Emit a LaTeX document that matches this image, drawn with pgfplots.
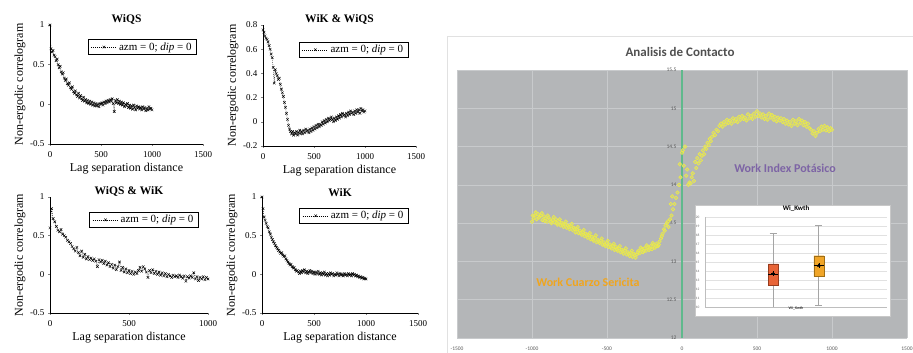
\documentclass[border=0pt]{standalone}
\usepackage{pgfplots}
\pgfplotsset{compat=1.18}
\usepackage{fontspec}
\setmainfont{Liberation Serif}
\newfontfamily\carl{Carlito}
\definecolor{bggray}{RGB}{180,182,184}
\definecolor{gridc}{RGB}{200,202,204}
\definecolor{greenl}{RGB}{95,185,140}
\definecolor{yel}{RGB}{236,236,70}
\definecolor{yelfill}{RGB}{215,215,120}
\definecolor{purp}{RGB}{125,100,165}
\definecolor{orng}{RGB}{240,165,30}
\definecolor{box1}{RGB}{232,100,55}
\definecolor{box2}{RGB}{240,165,40}
\definecolor{whisk}{RGB}{165,165,165}
\pgfplotsset{
  leftp/.style={
    scale only axis, anchor=south west, axis lines=left, axis line style={-, line width=0.4pt},
    tick align=outside, major tick length=2pt, tick style={line width=0.4pt},
    /pgf/number format/assume math mode=true, /pgf/number format/1000 sep={},
    tick label style={font=\fontsize{9}{10}\selectfont},
    xticklabel style={yshift=-2pt},
    label style={font=\fontsize{12}{13}\selectfont},
    xlabel={Lag separation distance}, ylabel={Non-ergodic correlogram},
    xlabel style={yshift=1pt}, ylabel style={yshift=-2pt},
    title style={font=\fontsize{11.5}{12}\selectfont\bfseries, yshift=-9pt},
    legend style={font=\fontsize{11}{11}\selectfont, draw=black, line width=0.4pt, inner xsep=3pt, inner ysep=1pt, anchor=north east, legend cell align=left},
    legend image code/.code={\draw[mark repeat=2,mark phase=2] plot coordinates {(0pt,0pt) (13pt,0pt) (26pt,0pt)};},
  },
  cplot/.style={black, dash pattern=on 1pt off 1pt, line width=0.35pt, mark=x, mark size=1.8pt, mark options={solid, line width=0.45pt}},
}
\begin{document}
\begin{tikzpicture}
\path[use as bounding box] (0pt,0pt) rectangle (913pt,353pt);
% ---------- Panel 1: WiQS
\begin{axis}[leftp, at={(50pt,209pt)}, width=153pt, height=119pt,
  xmin=0, xmax=1500, ymin=-0.5, ymax=1, xtick={0,500,1000,1500}, ytick={-0.5,0,0.5,1},
  title={WiQS}, legend style={at={(0.96,0.88)}}]
\addplot[cplot] coordinates {(0,1.00)(10,0.70)(20,0.66)(30,0.68)(40,0.62)(50,0.60)(60,0.55)(70,0.57)(80,0.50)(90,0.46)(100,0.48)(110,0.41)(120,0.38)(130,0.40)(140,0.33)(150,0.30)(160,0.32)(170,0.26)(180,0.24)(190,0.27)(200,0.21)(210,0.19)(220,0.22)(230,0.16)(240,0.14)(250,0.17)(260,0.12)(270,0.10)(280,0.14)(290,0.08)(300,0.11)(310,0.07)(320,0.05)(330,0.09)(340,0.04)(350,0.06)(360,0.02)(370,0.05)(380,0.01)(390,0.04)(400,0.00)(410,0.03)(420,-0.01)(430,0.02)(440,-0.02)(450,0.01)(460,-0.02)(470,0.00)(480,-0.03)(490,0.01)(500,0.00)(510,0.02)(520,-0.01)(530,0.03)(540,0.01)(550,0.04)(560,0.02)(570,0.05)(580,0.03)(590,0.06)(600,0.04)(610,0.07)(620,0.01)(630,-0.09)(640,0.05)(650,0.02)(660,0.06)(670,0.01)(680,0.04)(690,0.00)(700,0.03)(710,-0.01)(720,0.02)(730,-0.03)(740,0.00)(750,-0.02)(760,0.01)(770,-0.04)(780,-0.01)(790,-0.05)(800,-0.02)(810,-0.06)(820,-0.01)(830,-0.04)(840,-0.07)(850,-0.02)(860,-0.05)(870,-0.03)(880,-0.06)(890,-0.04)(900,-0.07)(910,-0.03)(920,-0.06)(930,-0.04)(940,-0.08)(950,-0.05)(960,-0.07)(970,-0.03)(980,-0.06)(990,-0.05)(1000,-0.07)};
\addlegendentry{azm = 0; \textit{dip} = 0}
\end{axis}
% ---------- Panel 2: WiK & WiQS
\begin{axis}[leftp, at={(263pt,207pt)}, width=153pt, height=121pt,
  xmin=0, xmax=1500, ymin=-0.2, ymax=0.8, xtick={0,500,1000,1500}, ytick={-0.2,0,0.2,0.4,0.6,0.8},
  title={WiK \& WiQS}, legend style={at={(0.95,0.86)}}]
\addplot[cplot] coordinates {(0,0.76)(10,0.74)(20,0.71)(30,0.69)(40,0.68)(50,0.66)(60,0.63)(70,0.60)(80,0.56)(90,0.53)(100,0.45)(110,0.32)(120,0.43)(130,0.40)(140,0.38)(150,0.35)(160,0.36)(170,0.31)(180,0.27)(190,0.24)(200,0.21)(210,0.16)(220,0.12)(230,0.07)(240,0.02)(250,-0.03)(260,-0.06)(270,-0.08)(280,-0.10)(290,-0.08)(300,-0.11)(310,-0.09)(320,-0.10)(330,-0.08)(340,-0.11)(350,-0.09)(360,-0.07)(370,-0.10)(380,-0.08)(390,-0.10)(400,-0.07)(410,-0.09)(420,-0.06)(430,-0.08)(440,-0.07)(450,-0.09)(460,-0.06)(470,-0.08)(480,-0.05)(490,-0.07)(500,-0.04)(510,-0.06)(520,-0.03)(530,-0.05)(540,-0.02)(550,-0.04)(560,-0.02)(570,-0.03)(580,0.00)(590,-0.02)(600,0.01)(610,-0.01)(620,0.02)(630,0.00)(640,0.03)(650,0.01)(660,0.02)(670,0.04)(680,0.02)(690,0.00)(700,0.03)(710,0.01)(720,0.04)(730,0.02)(740,0.05)(750,0.03)(760,0.06)(770,0.04)(780,0.07)(790,0.05)(800,0.06)(810,0.04)(820,0.07)(830,0.05)(840,0.08)(850,0.06)(860,0.09)(870,0.07)(880,0.08)(890,0.06)(900,0.09)(910,0.07)(920,0.10)(930,0.08)(940,0.10)(950,0.07)(960,0.11)(970,0.09)(980,0.10)(990,0.08)(1000,0.09)};
\addlegendentry{azm = 0; \textit{dip} = 0}
\end{axis}
% ---------- Panel 3: WiQS & WiK
\begin{axis}[leftp, at={(50pt,40pt)}, width=158pt, height=116pt,
  xmin=0, xmax=1000, ymin=-0.5, ymax=1, xtick={0,500,1000}, ytick={-0.5,0,0.5,1},
  title={WiQS \& WiK}, legend style={at={(0.94,0.87)}}]
\addplot[cplot] coordinates {(0,0.60)(10,0.85)(20,0.72)(30,0.68)(40,0.62)(50,0.57)(60,0.55)(70,0.58)(80,0.52)(90,0.50)(100,0.48)(110,0.44)(120,0.42)(130,0.40)(140,0.36)(150,0.33)(160,0.30)(170,0.35)(180,0.28)(190,0.24)(200,0.30)(210,0.22)(220,0.26)(230,0.20)(240,0.23)(250,0.19)(260,0.21)(270,0.18)(280,0.20)(290,0.17)(300,0.10)(310,0.19)(320,0.16)(330,0.18)(340,0.14)(350,0.17)(360,0.12)(370,0.15)(380,0.10)(390,0.13)(400,0.08)(410,0.12)(420,0.06)(430,0.10)(440,0.16)(450,0.05)(460,0.09)(470,0.03)(480,0.07)(490,0.02)(500,0.05)(510,0.01)(520,0.04)(530,0.00)(540,0.03)(550,0.01)(560,0.05)(570,0.09)(580,0.04)(590,0.10)(600,0.07)(610,0.03)(620,-0.04)(630,0.05)(640,0.02)(650,0.06)(660,0.01)(670,0.04)(680,0.00)(690,0.03)(700,-0.01)(710,0.02)(720,-0.02)(730,0.01)(740,-0.03)(750,0.00)(760,-0.02)(770,-0.04)(780,-0.01)(790,-0.03)(800,-0.02)(810,-0.04)(820,-0.01)(830,-0.03)(840,-0.05)(850,-0.02)(860,-0.09)(870,-0.03)(880,-0.05)(890,-0.02)(900,-0.04)(910,0.02)(920,-0.06)(930,-0.03)(940,-0.08)(950,-0.04)(960,-0.06)(970,-0.03)(980,-0.07)(990,-0.04)(1000,-0.06)};
\addlegendentry{azm = 0; \textit{dip} = 0}
\end{axis}
% ---------- Panel 4: WiK
\begin{axis}[leftp, at={(262pt,40pt)}, width=156pt, height=116pt,
  xmin=0, xmax=1500, ymin=-0.5, ymax=1, xtick={0,500,1000,1500}, ytick={-0.5,0,0.5,1},
  title={WiK}, legend style={at={(0.94,0.905)}}]
\addplot[cplot] coordinates {(0,1.00)(10,0.85)(20,0.74)(30,0.70)(40,0.66)(50,0.62)(60,0.60)(70,0.55)(80,0.52)(90,0.48)(100,0.45)(110,0.42)(120,0.40)(130,0.37)(140,0.35)(150,0.33)(160,0.31)(170,0.29)(180,0.27)(190,0.28)(200,0.25)(210,0.23)(220,0.24)(230,0.20)(240,0.18)(250,0.16)(260,0.14)(270,0.12)(280,0.13)(290,0.10)(300,0.08)(310,0.09)(320,0.06)(330,0.04)(340,0.05)(350,0.03)(360,0.01)(370,0.04)(380,0.02)(390,0.05)(400,0.03)(410,0.06)(420,0.02)(430,0.04)(440,0.01)(450,0.03)(460,0.05)(470,0.02)(480,0.04)(490,0.01)(500,0.03)(510,0.00)(520,0.03)(530,0.01)(540,0.04)(550,0.00)(560,0.02)(570,-0.01)(580,0.02)(590,0.00)(600,0.03)(610,-0.01)(620,0.01)(630,-0.02)(640,0.01)(650,-0.01)(660,0.02)(670,0.00)(680,0.01)(690,-0.02)(700,0.00)(710,-0.01)(720,0.02)(730,0.00)(740,-0.02)(750,0.01)(760,-0.01)(770,0.00)(780,-0.02)(790,0.01)(800,-0.01)(810,0.00)(820,-0.02)(830,0.01)(840,-0.01)(850,0.00)(860,-0.02)(870,0.01)(880,-0.01)(890,0.00)(900,-0.02)(910,-0.01)(920,-0.03)(930,-0.02)(940,-0.04)(950,-0.03)(960,-0.05)(970,-0.04)(980,-0.06)(990,-0.05)(1000,-0.06)};
\addlegendentry{azm = 0; \textit{dip} = 0}
\end{axis}
% ---------- Right chart
\draw[draw={rgb,255:red,225;green,225;blue,225}, line width=0.6pt] (447pt,-1pt) rectangle (914pt,317pt);
\node[font=\carl\bfseries\fontsize{13}{14}\selectfont, text={rgb,255:red,80;green,80;blue,80}] at (680pt,301pt) {Analisis de Contacto};
\begin{axis}[at={(457pt,15pt)}, anchor=south west, scale only axis, width=450pt, height=268pt,
  xmin=-1500, xmax=1500, ymin=12, ymax=15.5,
  axis background/.style={fill=bggray},
  axis x line=bottom, axis y line=middle,
  x axis line style={draw=none},
  y axis line style={draw=greenl, line width=2.5pt, -},
  hide obscured x ticks=false, hide obscured y ticks=false,
  grid=major, major grid style={draw=gridc, line width=0.6pt},
  xtick={-1500,-1000,...,1500}, ytick={12,12.5,...,15.5},
  tick style={draw=none},
  /pgf/number format/assume math mode=true, /pgf/number format/1000 sep={},
  tick label style={font=\carl\fontsize{5.5}{6}\selectfont, text={rgb,255:red,90;green,90;blue,90}},
  xticklabel style={yshift=-3pt},
  clip=false]
\addplot[only marks, mark=*, mark size=1.8pt, mark options={draw=yel, fill=yelfill, fill opacity=0.6, line width=0.55pt}] coordinates {(-1000,13.52)(-990,13.56)(-980,13.6)(-970,13.55)(-960,13.62)(-950,13.58)(-940,13.6)(-930,13.54)(-920,13.59)(-910,13.56)(-900,13.52)(-890,13.57)(-880,13.55)(-870,13.5)(-860,13.54)(-850,13.51)(-840,13.55)(-830,13.48)(-820,13.52)(-810,13.47)(-800,13.5)(-790,13.45)(-780,13.49)(-770,13.44)(-760,13.47)(-750,13.42)(-740,13.46)(-730,13.41)(-720,13.44)(-710,13.38)(-700,13.42)(-690,13.37)(-680,13.4)(-670,13.35)(-660,13.38)(-650,13.33)(-640,13.36)(-630,13.31)(-620,13.34)(-610,13.29)(-600,13.32)(-590,13.27)(-580,13.31)(-570,13.25)(-560,13.28)(-550,13.24)(-540,13.27)(-530,13.22)(-520,13.25)(-510,13.2)(-500,13.24)(-490,13.19)(-480,13.22)(-470,13.17)(-460,13.2)(-450,13.15)(-440,13.19)(-430,13.14)(-420,13.17)(-410,13.12)(-400,13.15)(-390,13.1)(-380,13.14)(-370,13.09)(-360,13.12)(-350,13.07)(-340,13.11)(-330,13.06)(-320,13.1)(-310,13.05)(-300,13.09)(-290,13.14)(-280,13.11)(-270,13.16)(-260,13.12)(-250,13.17)(-240,13.14)(-230,13.19)(-220,13.15)(-210,13.2)(-200,13.16)(-190,13.22)(-180,13.18)(-170,13.23)(-160,13.2)(-150,13.26)(-140,13.3)(-130,13.36)(-120,13.42)(-110,13.47)(-100,13.5)(-90,13.45)(-80,13.55)(-70,13.6)(-60,13.68)(-50,13.75)(-40,13.83)(-30,13.9)(-20,14.0)(-15,14.27)(-10,14.1)
(-995,13.6)(-975,13.64)(-955,13.57)(-935,13.63)(-915,13.53)(-895,13.6)(-875,13.52)(-855,13.58)(-835,13.5)(-815,13.55)(-795,13.48)(-775,13.52)(-755,13.45)(-735,13.49)(-715,13.42)(-695,13.45)(-675,13.37)(-655,13.41)(-635,13.34)(-615,13.37)(-595,13.29)(-575,13.34)(-555,13.26)(-535,13.3)(-515,13.22)(-495,13.27)(-475,13.19)(-455,13.23)(-435,13.16)(-415,13.2)(-395,13.13)(-375,13.17)(-355,13.1)(-335,13.14)(-315,13.08)(-295,13.12)(-275,13.18)(-255,13.14)(-235,13.21)(-215,13.17)(-195,13.24)(-175,13.2)(-155,13.22)(-135,13.33)(-115,13.4)(-95,13.52)(-75,13.75)(-65,13.85)
(0,14.42)(5,14.45)(12,14.25)(20,14.5)(28,14.12)(35,14.2)(42,14.0)(50,14.03)(58,14.02)(65,14.1)(72,14.15)(80,14.05)(88,14.3)(95,14.22)(102,14.35)(110,14.28)(118,14.4)(125,14.32)(132,14.38)(140,14.45)(148,14.4)(155,14.5)(162,14.47)(170,14.55)(178,14.52)(185,14.6)(192,14.57)(200,14.63)(210,14.68)(220,14.65)(230,14.72)(240,14.7)(250,14.77)(260,14.8)(270,14.76)(280,14.82)(290,14.79)(300,14.85)(310,14.81)(320,14.84)(330,14.8)(340,14.87)(350,14.83)(360,14.86)(370,14.82)(380,14.89)(390,14.85)(400,14.9)(410,14.86)(420,14.88)(430,14.84)(440,14.92)(450,14.87)(460,14.9)(470,14.86)(480,14.93)(490,14.89)(500,14.96)(510,14.9)(520,14.93)(530,14.88)(540,14.92)(550,14.86)(560,14.9)(570,14.85)(580,14.93)(590,14.88)(600,14.91)(610,14.85)(620,14.89)(630,14.83)(640,14.88)(650,14.84)(660,14.87)(670,14.82)(680,14.86)(690,14.8)(700,14.84)(710,14.79)(720,14.82)(730,14.77)(740,14.85)(750,14.8)(760,14.83)(770,14.78)(780,14.86)(790,14.81)(800,14.84)(810,14.78)(820,14.82)(830,14.76)(840,14.8)(850,14.74)(860,14.72)(870,14.67)(880,14.7)(890,14.64)(900,14.68)(910,14.73)(920,14.7)(930,14.76)(940,14.72)(950,14.77)(960,14.71)(970,14.75)(980,14.7)(990,14.74)(1000,14.72)};
\node[font=\carl\bfseries\fontsize{12}{13}\selectfont, text=purp] at (axis cs:687,14.22) {Work Index Potásico};
\node[font=\carl\bfseries\fontsize{12}{13}\selectfont, text=orng] at (axis cs:-627,12.73) {Work Cuarzo Sericita};
\end{axis}
% ---------- Inset box plot
\fill[white] (695pt,37pt) rectangle (890pt,148pt);
\draw[draw={rgb,255:red,200;green,200;blue,200}, line width=0.4pt] (695pt,37pt) rectangle (890pt,148pt);
\begin{axis}[at={(705pt,46pt)}, anchor=south west, scale only axis, width=182pt, height=90pt,
  xmin=0, xmax=4, ymin=10, ymax=20, ytick={10,11,...,20}, xtick=\empty,
  axis lines=left, axis line style={-, draw={rgb,255:red,190;green,190;blue,190}, line width=0.3pt},
  ymajorgrids, major grid style={draw={rgb,255:red,225;green,225;blue,225}, line width=0.3pt},
  tick style={draw=none},
  /pgf/number format/assume math mode=true,
  tick label style={font=\carl\fontsize{3.5}{4}\selectfont, text={rgb,255:red,100;green,100;blue,100}},
  title={Wi\_Kwth}, title style={font=\carl\bfseries\fontsize{7}{7}\selectfont, yshift=-4pt},
  xlabel={Wi\_Kwth}, xlabel style={font=\carl\fontsize{4}{4}\selectfont, yshift=6pt}]
% whiskers
\addplot[draw=whisk, line width=1pt] coordinates {(1.5,10.0)(1.5,18.2)};
\addplot[draw=whisk, line width=0.8pt] coordinates {(1.42,10.0)(1.58,10.0)};
\addplot[draw=whisk, line width=0.8pt] coordinates {(1.42,18.2)(1.58,18.2)};
\addplot[draw=whisk, line width=1pt] coordinates {(2.5,10.2)(2.5,19.1)};
\addplot[draw=whisk, line width=0.8pt] coordinates {(2.42,10.2)(2.58,10.2)};
\addplot[draw=whisk, line width=0.8pt] coordinates {(2.42,19.1)(2.58,19.1)};
% boxes
\addplot[draw={rgb,255:red,150;green,60;blue,30}, fill=box1, line width=0.3pt] coordinates {(1.39,12.4)(1.61,12.4)(1.61,14.8)(1.39,14.8)(1.39,12.4)};
\addplot[draw={rgb,255:red,160;green,110;blue,20}, fill=box2, line width=0.3pt] coordinates {(2.39,13.4)(2.61,13.4)(2.61,15.7)(2.39,15.7)(2.39,13.4)};
\addplot[black, line width=0.3pt] coordinates {(1.39,13.6)(1.61,13.6)};
\addplot[black, line width=0.3pt] coordinates {(2.39,14.6)(2.61,14.6)};
\addplot[only marks, mark=triangle*, mark size=1.6pt, black] coordinates {(1.5,13.7)(2.5,14.6)};
\addplot[only marks, mark=+, mark size=2.2pt, black, line width=0.4pt] coordinates {(1.5,13.7)(2.5,14.6)};
\end{axis}
\end{tikzpicture}
\end{document}
